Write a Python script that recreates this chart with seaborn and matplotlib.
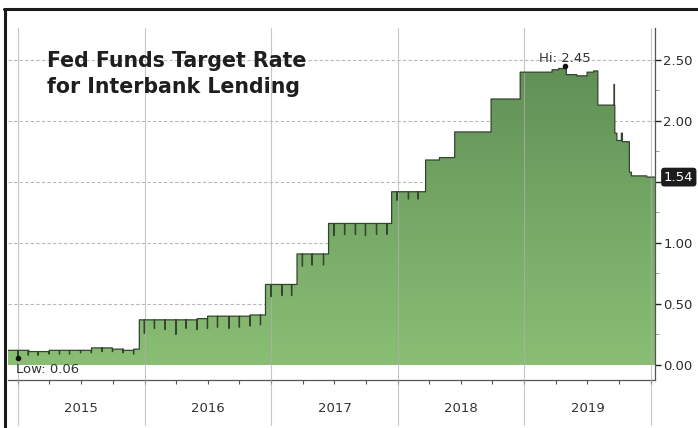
import numpy as np
import pandas as pd
import matplotlib
matplotlib.use("Agg")
import matplotlib.pyplot as plt
import matplotlib.dates as mdates
from matplotlib.colors import LinearSegmentedColormap
from matplotlib.lines import Line2D
from matplotlib.ticker import FixedLocator, NullFormatter
import seaborn as sns

# ---------------- data ----------------
level_dates = [
    "2014-12-03", "2015-02-01", "2015-04-01", "2015-06-01", "2015-08-01",
    "2015-10-01", "2015-11-01", "2015-12-01", "2015-12-17", "2016-02-01",
    "2016-04-01", "2016-06-01", "2016-07-01", "2016-11-01", "2016-12-15",
    "2017-03-16", "2017-06-15", "2017-12-14", "2018-03-22", "2018-05-01",
    "2018-06-14", "2018-09-27", "2018-12-20", "2019-03-22", "2019-04-10",
    "2019-05-02", "2019-06-01", "2019-07-01", "2019-07-20", "2019-08-01",
    "2019-09-19", "2019-09-25", "2019-10-08", "2019-10-11", "2019-10-31",
    "2019-11-06", "2019-12-20",
]
level_values = [
    0.12, 0.11, 0.12, 0.12, 0.14,
    0.13, 0.12, 0.13, 0.37, 0.37,
    0.37, 0.38, 0.40, 0.41, 0.66,
    0.91, 1.16, 1.42, 1.68, 1.70,
    1.91, 2.18, 2.40, 2.42, 2.43,
    2.38, 2.37, 2.40, 2.41, 2.13,
    1.90, 1.84, 1.90, 1.83, 1.58,
    1.55, 1.54,
]
# one-day moves (month-end dips and spikes)
event_dates = [
    "2014-12-31", "2015-01-30", "2015-02-27", "2015-03-31", "2015-04-30",
    "2015-05-29", "2015-06-30", "2015-07-31", "2015-08-31", "2015-09-30",
    "2015-10-30", "2015-11-30",
    "2015-12-31", "2016-01-29", "2016-02-29", "2016-03-31", "2016-04-29",
    "2016-05-31", "2016-06-30", "2016-07-29", "2016-08-31", "2016-09-30",
    "2016-10-31", "2016-11-30",
    "2016-12-30", "2017-01-31", "2017-02-28",
    "2017-03-31", "2017-04-28", "2017-05-31",
    "2017-06-30", "2017-07-31", "2017-08-31", "2017-09-29", "2017-10-31",
    "2017-11-30",
    "2017-12-29", "2018-01-31", "2018-02-28",
    "2019-04-29", "2019-09-17",
]
event_values = [
    0.06, 0.08, 0.08, 0.09, 0.09,
    0.09, 0.10, 0.10, 0.11, 0.11,
    0.10, 0.09,
    0.26, 0.30, 0.29, 0.25, 0.30,
    0.29, 0.30, 0.31, 0.30, 0.31,
    0.32, 0.33,
    0.56, 0.57, 0.57,
    0.81, 0.82, 0.82,
    1.06, 1.07, 1.07, 1.06, 1.07,
    1.07,
    1.35, 1.36, 1.36,
    2.45, 2.30,
]
end_date = "2020-01-13"
year_labels = ["2015", "2016", "2017", "2018", "2019"]
y_ticks = [0.0, 0.5, 1.0, 1.5, 2.0, 2.5]
title_lines = ["Fed Funds Target Rate", "for Interbank Lending"]
hi_date, hi_value = "2019-04-29", 2.45
low_date, low_value = "2014-12-31", 0.06
last_value = 1.54

# ---------------- style ----------------
sns.set_theme(style="white")
plt.rcParams["font.family"] = ["DejaVu Sans"]

W, H = 698, 428
fig = plt.figure(figsize=(W / 100, H / 100), dpi=100)
fig.patch.set_facecolor("white")
ax = fig.add_axes([8 / W, (H - 380) / H, 647 / W, 352 / H])
ax.set_facecolor("white")

# ---------------- series ----------------
days = pd.date_range(level_dates[0], end_date, freq="D")
level = pd.Series(level_values, index=pd.to_datetime(level_dates)).reindex(days, method="ffill")
events = pd.Series(event_values, index=pd.to_datetime(event_dates))
rate = level.copy()
rate.loc[events.index] = events.values
df = pd.DataFrame({"date": days, "rate": rate.values})

# gradient filled area
poly = ax.fill_between(df["date"], 0, df["rate"], step="post",
                       facecolor="none", edgecolor="none", zorder=2)
xnum = mdates.date2num(df["date"])
grad = np.linspace(0, 1, 256).reshape(-1, 1)
cmap = LinearSegmentedColormap.from_list("g", ["#8abe74", "#75a866", "#5f8e55"])
im = ax.imshow(grad, cmap=cmap, origin="lower", aspect="auto",
               extent=[xnum[0], xnum[-1], 0, 2.5], zorder=2, interpolation="bilinear")
im.set_clip_path(poly.get_paths()[0], poly.get_transform())

sns.lineplot(data=df, x="date", y="rate", ax=ax, color="#34452f", lw=0.9,
             drawstyle="steps-post", estimator=None, zorder=4)

# ---------------- axes ----------------
x0 = pd.Timestamp(level_dates[0])
x1 = pd.Timestamp(end_date)
ax.set_xlim(x0, x1)
ax.set_ylim(-0.123, 2.762)
ax.set_xlabel("")
ax.set_ylabel("")

# horizontal dashed grid
for v in y_ticks[1:]:
    ax.axhline(v, color="#b8b8b8", lw=0.8, ls=(0, (3, 2)), zorder=1)

# vertical year lines, running into the label band
for yr in range(int(year_labels[0]), int(year_labels[-1]) + 2):
    ax.axvline(pd.Timestamp(f"{yr}-01-01"), ymin=-0.128, ymax=1, clip_on=False,
               color="#b0b0b0", lw=0.8, alpha=0.7, zorder=3)

# bottom ticks at quarters, year labels centred in each year
ax.xaxis.set_major_locator(mdates.MonthLocator(bymonth=[1, 4, 7, 10]))
ax.xaxis.set_major_formatter(NullFormatter())
ax.tick_params(axis="x", which="major", length=3, width=0.8, color="#555555",
               direction="out", bottom=True)
for lab in year_labels:
    ax.text(pd.Timestamp(f"{lab}-07-02"), -0.08, lab, transform=ax.get_xaxis_transform(),
            ha="center", va="center", fontsize=9.5, color="#333333")

# right axis (the 1.50 label is covered by the last-value box)
ax.yaxis.tick_right()
ax.set_yticks(y_ticks)
ax.set_yticklabels(["" if v == 1.5 else f"{v:.2f}" for v in y_ticks])
ax.yaxis.set_minor_locator(FixedLocator([0.25, 0.75, 1.25, 1.75, 2.25]))
ax.tick_params(axis="y", which="major", length=4, width=1.0, color="#222222",
               pad=2, labelsize=9.5, labelcolor="#2b2b2b", right=True, left=False)
ax.tick_params(axis="y", which="minor", length=3, width=0.7, color="#999999",
               right=True, left=False)

for s in ["top", "left"]:
    ax.spines[s].set_visible(False)
for s in ["right", "bottom"]:
    ax.spines[s].set_color("#555555")
    ax.spines[s].set_linewidth(0.9)

# ---------------- annotations ----------------
ax.plot(pd.Timestamp(hi_date), hi_value, "o", ms=3, color="#111111", zorder=5)
ax.annotate(f"Hi: {hi_value:.2f}", xy=(pd.Timestamp(hi_date), hi_value),
            xytext=(0, 3), textcoords="offset points", ha="center", va="baseline",
            fontsize=9.5, color="#333333", zorder=6)
ax.plot(pd.Timestamp(low_date), low_value, "o", ms=3, color="#111111", zorder=5)
ax.annotate(f"Low: {low_value:.2f}", xy=(pd.Timestamp(low_date), low_value),
            xytext=(-1, -11), textcoords="offset points", ha="left", va="baseline",
            fontsize=9.5, color="#333333", zorder=6)
ax.annotate(f"{last_value:.2f}", xy=(1.0, last_value), xycoords=ax.get_yaxis_transform(),
            xytext=(6.5, 0), textcoords="offset points", ha="left", va="center",
            fontsize=9.5, color="white", annotation_clip=False,
            bbox=dict(boxstyle="round,pad=0.22,rounding_size=0.25", fc="#1c1c1c", ec="none"))

# title
fig.text(47 / W, 1 - 67 / H, title_lines[0], fontsize=14.8, fontweight="bold",
         color="#1e1e1e", ha="left", va="baseline")
fig.text(47 / W, 1 - 93 / H, title_lines[1], fontsize=14.8, fontweight="bold",
         color="#1e1e1e", ha="left", va="baseline")

# outer frame (top and left edges)
fig.add_artist(Line2D([5 / W, 5 / W], [0, 1 - 9 / H], transform=fig.transFigure,
                      color="#1a1a1a", lw=2.2))
fig.add_artist(Line2D([4 / W, 1], [1 - 9 / H, 1 - 9 / H], transform=fig.transFigure,
                      color="#1a1a1a", lw=2.2))

fig.savefig("out.png", dpi=100, facecolor="white")
